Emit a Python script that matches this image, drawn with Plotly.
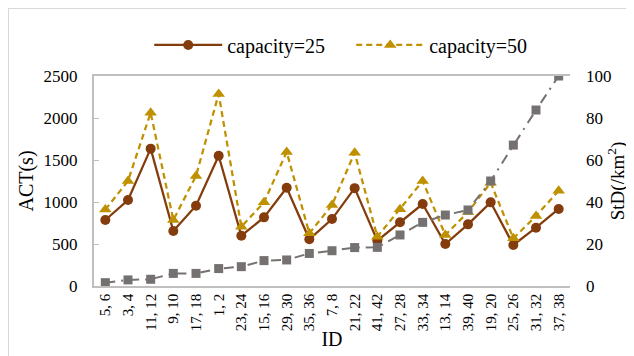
import plotly.graph_objects as go

ids = ["5, 6", "3, 4", "11, 12", "9, 10", "17, 18", "1, 2", "23, 24", "15, 16",
       "29, 30", "35, 36", "7, 8", "21, 22", "41, 42", "27, 28", "33, 34",
       "13, 14", "39, 40", "19, 20", "25, 26", "31, 32", "37, 38"]
act_cap25 = [786, 1024, 1635, 655, 956, 1551, 599, 817, 1170, 556, 797, 1165,
             540, 758, 976, 500, 734, 996, 488, 694, 917]
act_cap50 = [910, 1250, 2063, 786, 1310, 2286, 706, 996, 1595, 627, 964, 1587,
             587, 913, 1250, 607, 880, 1230, 568, 833, 1134]
std_km2 = [1.6, 2.9, 3.2, 6.0, 6.0, 8.3, 9.2, 12.1, 12.4, 15.5, 16.8, 18.3,
           18.4, 24.3, 30.3, 33.8, 36.2, 50.0, 67.1, 83.8, 100.0]

FONT = "Liberation Serif"
BROWN = "#843C0C"
GOLD = "#BF9000"
GRAY = "#767171"
AXC = "#BFBFBF"

fig = go.Figure()
fig.add_trace(go.Scatter(
    x=ids, y=act_cap25, name="capacity=25", mode="lines+markers",
    line=dict(color=BROWN, width=2.25),
    marker=dict(symbol="circle", size=10, color=BROWN)))
fig.add_trace(go.Scatter(
    x=ids, y=act_cap50, name="capacity=50", mode="lines+markers",
    line=dict(color=GOLD, width=2.25, dash="6px,4px"),
    marker=dict(symbol="triangle-up", size=11, color=GOLD)))
fig.add_trace(go.Scatter(
    x=ids, y=std_km2, name="StD", mode="lines+markers", yaxis="y2",
    showlegend=False,
    line=dict(color=GRAY, width=2, dash="10px,6px,2px,6px"),
    marker=dict(symbol="square", size=9, color=GRAY)))

# page has an 8px body margin, so the figure is drawn at (8, 8)
fig.update_layout(
    width=626, height=348,
    margin=dict(l=86, r=64, t=68, b=70, autoexpand=False),
    paper_bgcolor="white", plot_bgcolor="white",
    font=dict(family=FONT, size=17, color="black"),
    legend=dict(orientation="h", x=0.116, xanchor="left", y=1.148,
                yanchor="middle", font=dict(size=20), bgcolor="rgba(0,0,0,0)",
                itemwidth=68, entrywidth=119, tracegroupgap=0),
    xaxis=dict(
        type="category", range=[-0.5, 20.5], automargin=False,
        tickangle=-90, tickfont=dict(size=15),
        showgrid=False, showline=True, linecolor=AXC, linewidth=1.5,
        mirror=True, ticks="", zeroline=False,
        title=dict(text="ID", font=dict(size=20), standoff=2)),
    yaxis=dict(
        range=[0, 2500], tickvals=[0, 500, 1000, 1500, 2000, 2500],
        automargin=False,
        showgrid=False, showline=True, linecolor=AXC, linewidth=2,
        ticks="inside", ticklen=5, tickcolor=AXC, zeroline=False,
        ticklabelstandoff=11,
        title=dict(text="ACT(s)", font=dict(size=20), standoff=5)),
    yaxis2=dict(
        overlaying="y", side="right", range=[0, 100], automargin=False,
        tickvals=[0, 20, 40, 60, 80, 100],
        showgrid=False, showline=False, ticks="", zeroline=False,
        ticklabelstandoff=15,
        title=dict(text="StD(/km<sup>2</sup>)", font=dict(size=19), standoff=0)),
    shapes=[dict(type="rect", xref="paper", yref="paper",
                 x0=-86/476, x1=1.3, y0=-0.5, y1=1 + 68/210,
                 line=dict(color="#D9D9D9", width=2), layer="below")],
)

fig.write_html("out.html")
